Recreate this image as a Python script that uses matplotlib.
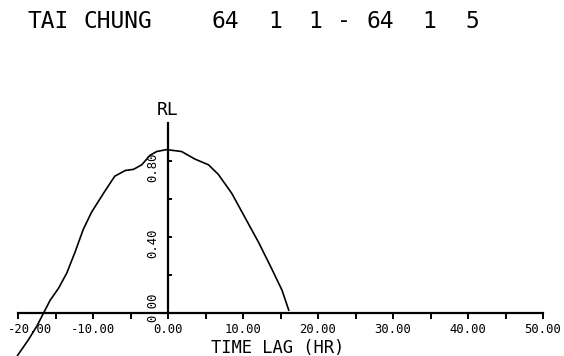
"""Cross-correlation RL vs time lag, Tai Chung 64/1/1 - 64/1/5."""

import matplotlib
matplotlib.use("Agg")
import matplotlib.pyplot as plt
from matplotlib.transforms import ScaledTranslation

# Data
lag_hr = [-20.6, -20.0, -18.6, -17.5, -16.5, -15.7, -14.6, -13.5, -12.4, -11.3,
          -10.2, -8.6, -7.1, -5.7, -4.6, -3.5, -2.4, -1.5, -0.2, 1.8,
          3.6, 5.4, 6.7, 8.5, 10.3, 12.1, 13.8, 15.2, 16.1]
rl = [-0.26, -0.22, -0.14, -0.07, 0.007, 0.068, 0.13, 0.21, 0.32, 0.44,
      0.53, 0.63, 0.72, 0.75, 0.756, 0.78, 0.83, 0.85, 0.86, 0.85,
      0.81, 0.78, 0.73, 0.63, 0.50, 0.37, 0.235, 0.12, 0.015]

x_ticks = [-20, -10, 0, 10, 20, 30, 40, 50]
x_minor = [-15, -5, 5, 15, 25, 35, 45]
y_ticks = [0.2, 0.4, 0.6, 0.8]
y_labeled = [0.0, 0.4, 0.8]

title_parts = ["TAI", "CHUNG", "64", "1", "1", "-", "64", "1", "5"]
title_x_px = [48, 118, 225, 275, 315, 344, 380, 429, 472]

W, H, DPI = 564, 356, 100
MONO = "DejaVu Sans Mono"

fig = plt.figure(figsize=(W / DPI, H / DPI), dpi=DPI)
ax = fig.add_axes([0, 0, 1, 1])
ax.patch.set_visible(False)

# 7.5 px per hour, 190 px per unit RL; origin at (168, 313) px from top-left
ax.set_xlim(-20 - 18 / 7.5, 50 + 21 / 7.5)
ax.set_ylim(-43 / 190, (H - 43) / 190)

for s in ["top", "right"]:
    ax.spines[s].set_visible(False)
ax.spines["left"].set_position(("data", 0))
ax.spines["bottom"].set_position(("data", 0))
ax.spines["left"].set_bounds(0, 1.0)
ax.spines["bottom"].set_bounds(-20, 50)
ax.spines["left"].set_linewidth(1.6)
ax.spines["bottom"].set_linewidth(1.6)

ax.set_xticks(x_ticks)
ax.set_xticklabels([f"{v:.2f}" for v in x_ticks], fontfamily=MONO, fontsize=8.8)
ax.set_xticks(x_minor, minor=True)
ax.tick_params(axis="x", which="both", direction="out", length=4, width=1.4, pad=3)
# the plotter put the first label a bit right of its tick
first = ax.get_xticklabels()[0]
first.set_transform(first.get_transform() + ScaledTranslation(12 / DPI, 0, fig.dpi_scale_trans))

ax.set_yticks(y_ticks)
ax.set_yticklabels([])
ax.tick_params(axis="y", direction="in", length=3, width=1.4)

# y tick labels: rotated, shifted up from the ticks like the plotter did
for v in y_labeled:
    up = 21 if v == 0 else 8
    off = ScaledTranslation(-15 / DPI, up / DPI, fig.dpi_scale_trans)
    ax.text(0, v, f"{v:.2f}", transform=ax.transData + off, rotation=90,
            ha="center", va="top", fontfamily=MONO, fontsize=8.8)

ax.plot(lag_hr, rl, color="black", lw=1.2, clip_on=True)

ax.text(0, 1.0, "RL", transform=ax.transData + ScaledTranslation(0, 13 / DPI, fig.dpi_scale_trans),
        ha="center", va="center", fontfamily=MONO, fontsize=13)
fig.text(278 / W, 1 - 348 / H, "TIME LAG (HR)", ha="center", va="center",
         fontfamily=MONO, fontsize=12.3)

for txt, xp in zip(title_parts, title_x_px):
    fig.text(xp / W, 1 - 21 / H, txt, ha="center", va="center",
             fontfamily=MONO, fontsize=16.5)

fig.savefig("out.png", dpi=DPI)
